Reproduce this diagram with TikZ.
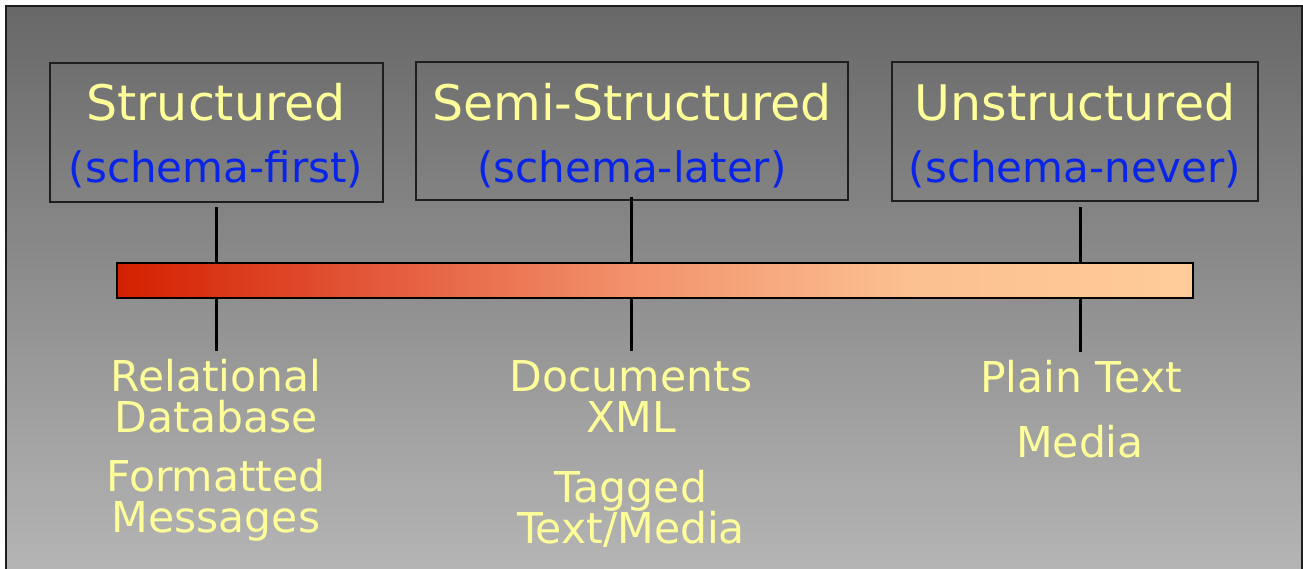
\documentclass[tikz,border=0pt]{standalone}
\usepackage{fontspec}
\setmainfont{DejaVu Sans}
\definecolor{bgtop}{RGB}{104,104,104}
\definecolor{bgbot}{RGB}{182,182,182}
\definecolor{lbl}{RGB}{255,255,153}
\definecolor{sub}{RGB}{8,36,232}
\definecolor{edge}{RGB}{30,30,30}
\pgfdeclarehorizontalshading{barshade}{100bp}{%
  rgb(0bp)=(0.831,0.125,0);
  rgb(25bp)=(0.831,0.125,0);
  rgb(37.25bp)=(0.894,0.353,0.235);
  rgb(48.95bp)=(0.949,0.573,0.424);
  rgb(61.45bp)=(0.984,0.749,0.565);
  rgb(75bp)=(1,0.8,0.6);
  rgb(100bp)=(1,0.8,0.6)}
\tikzset{
  catbox/.style={draw=edge, line width=2pt, fill=none},
  head/.style={text=lbl, font=\fontsize{49}{49}\selectfont, anchor=base, inner sep=0pt},
  subhead/.style={text=sub, font=\fontsize{42}{42}\selectfont, anchor=base, inner sep=0pt},
  item/.style={text=lbl, font=\fontsize{42.5}{41}\selectfont, anchor=base, inner sep=0pt},
  tick/.style={black, line width=3pt},
}
\begin{document}
\begin{tikzpicture}[x=1pt, y=-1pt]
\useasboundingbox (0,0) rectangle (1303,569);
% frame with background gradient
\path[top color=bgtop, bottom color=bgbot, draw=edge, line width=2pt] (6,6) rectangle (1302,578);
% category boxes
\draw[catbox] (50,63) rectangle (383,202);
\draw[catbox] (416,62) rectangle (848,200.5);
\draw[catbox] (892,62) rectangle (1258,201);
% headings
\node[head] (h1) at (216,121) {Structured};
\node[subhead] (s1) at (216,182.5) {(schema-first)};
\node[head] (h2) at (632,121) {Semi-Structured};
\node[subhead] (s2) at (632,182.5) {(schema-later)};
\node[head] (h3) at (1075,121) {Unstructured};
\node[subhead] (s3) at (1075,182.5) {(schema-never)};
% tick coordinates
\coordinate (t1a) at (216,207);
\coordinate (t1b) at (216,351);
\coordinate (t2a) at (631,197);
\coordinate (t2b) at (631,351);
\coordinate (t3a) at (1080,207.5);
\coordinate (t3b) at (1080,351.5);
\draw[tick] (t1a) -- (t1b);
\draw[tick] (t2a) -- (t2b);
\draw[tick] (t3a) -- (t3b);
% gradient bar
\node[draw=black, line width=2pt, shading=barshade, minimum width=1076pt, minimum height=34pt, inner sep=0pt, anchor=north west] (bar) at (116,262.5) {};
% items
\node[item] (r1) at (216,391.7) {Relational};
\node[item] (r2) at (216,432.7) {Database};
\node[item] (r3) at (216,491.7) {Formatted};
\node[item] (r4) at (216,532.7) {Messages};
\node[item] (d1) at (631,391.7) {Documents};
\node[item] (d2) at (631,432.7) {XML};
\node[item] (d3) at (631,502) {Tagged};
\node[item] (d4) at (631,543.3) {Text/Media};
\node[item] (p1) at (1081,392.3) {Plain Text};
\node[item] (p2) at (1080,457.7) {Media};
\end{tikzpicture}
\end{document}
